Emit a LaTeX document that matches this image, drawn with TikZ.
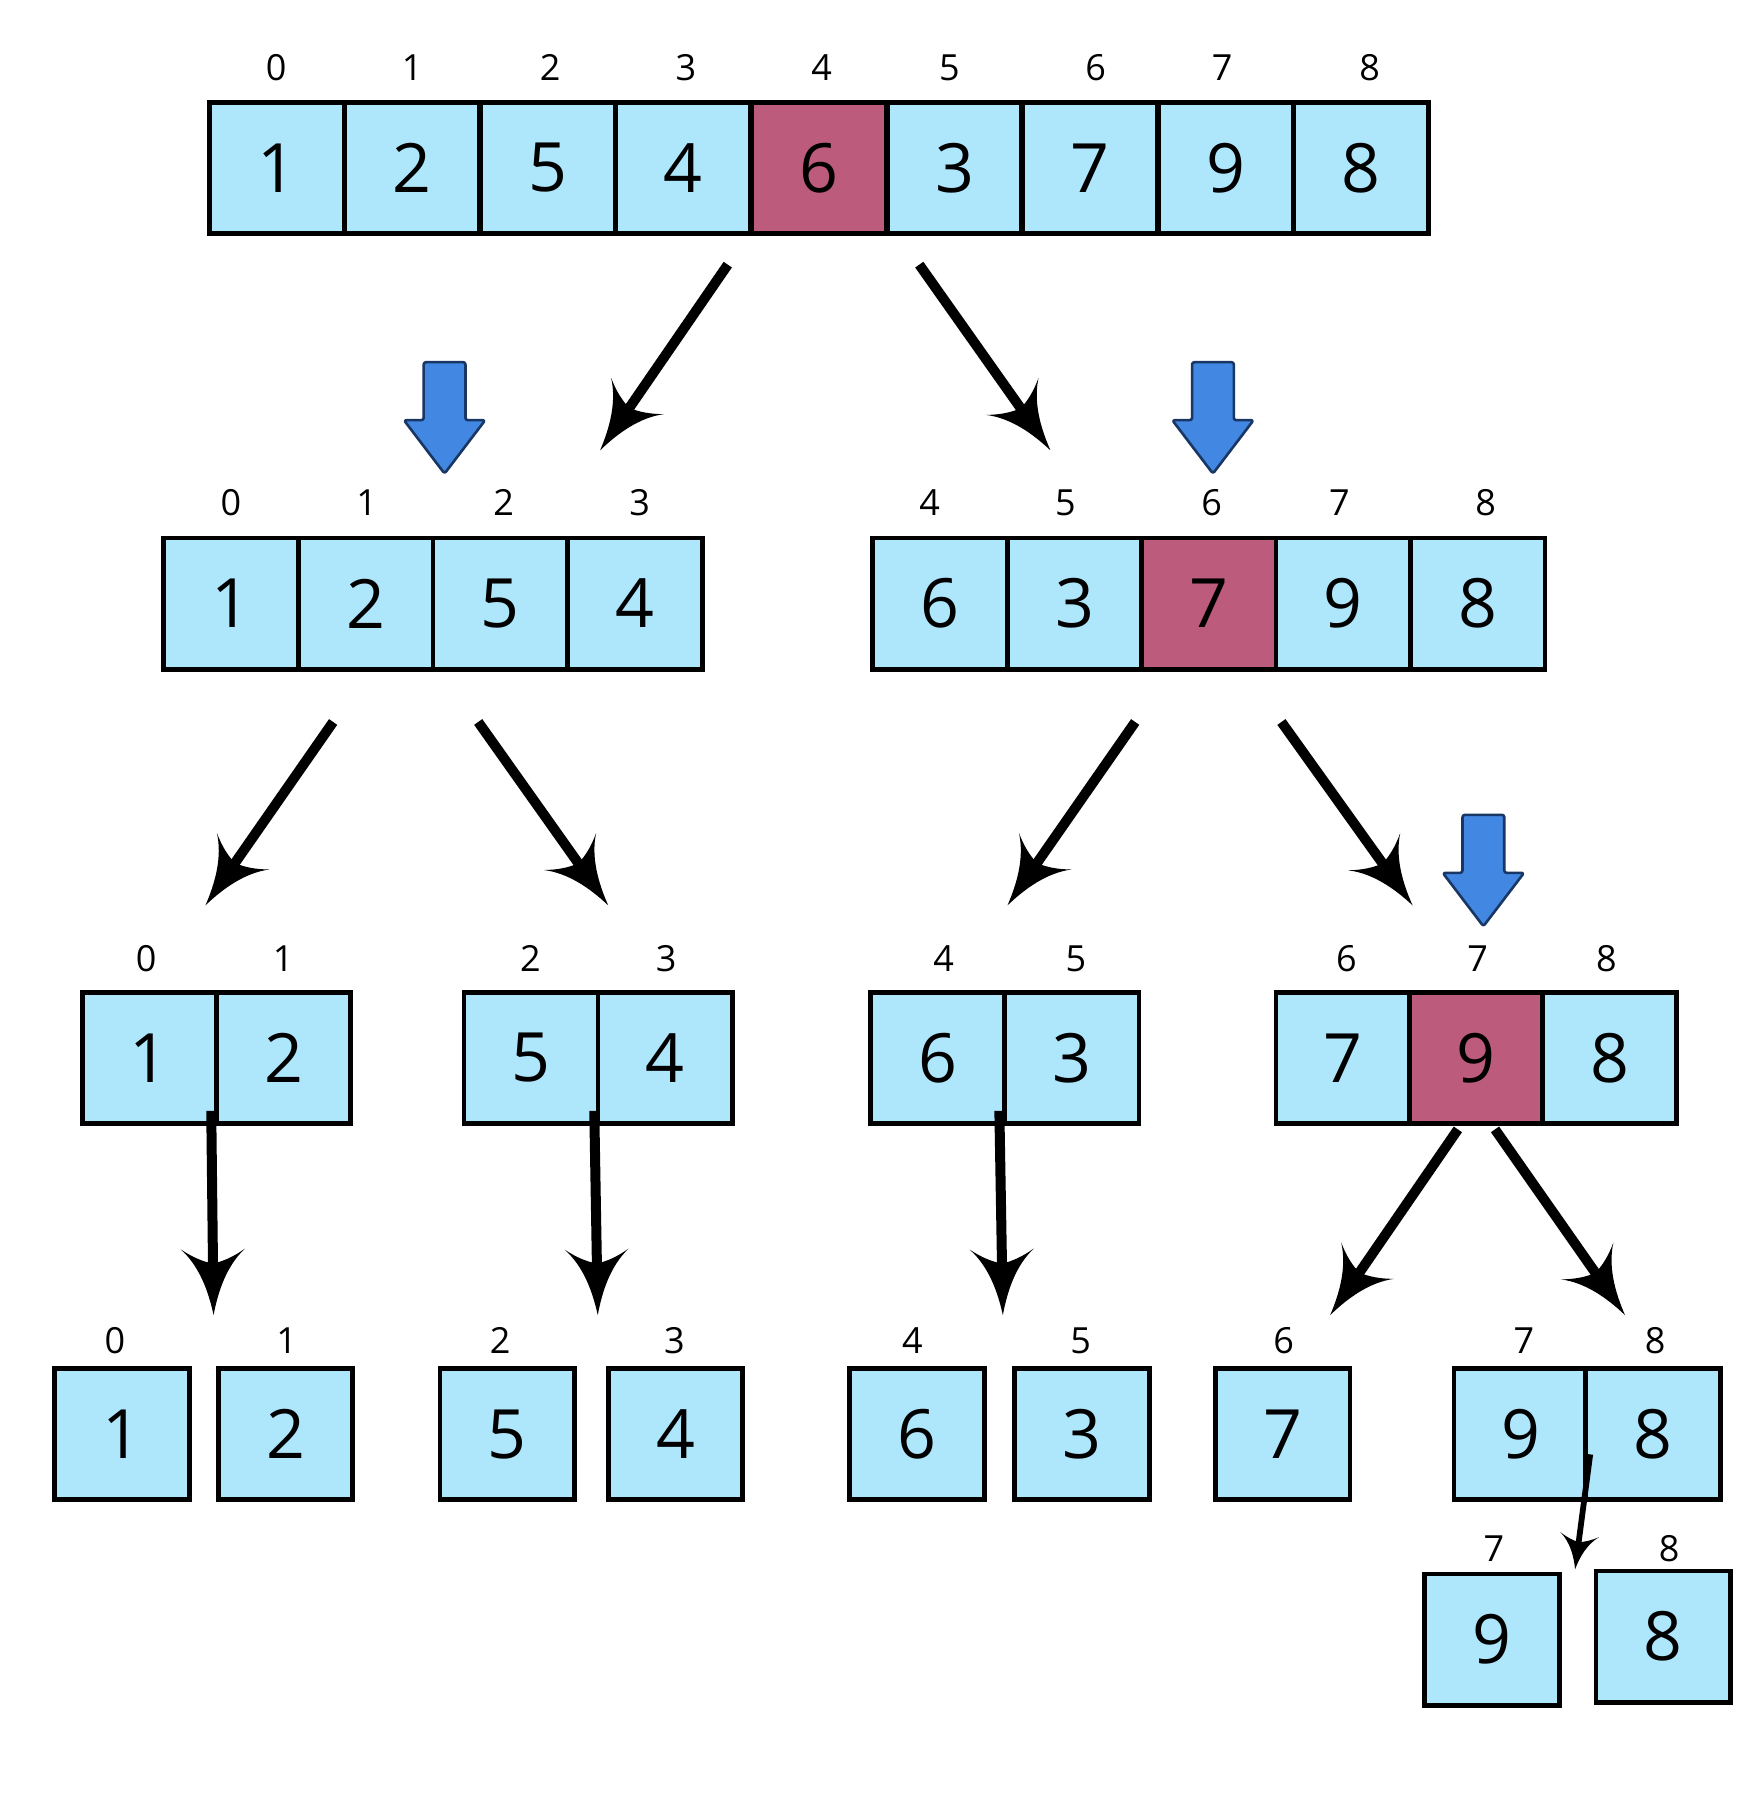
\documentclass[tikz,border=0pt]{standalone}
\usepackage{fontspec}
\setmainfont{Open Sans}
\usetikzlibrary{arrows.meta}
\definecolor{cellblue}{RGB}{174,230,252}
\definecolor{pivotred}{RGB}{188,91,123}
\definecolor{ptrblue}{RGB}{66,135,225}
\definecolor{ptrline}{RGB}{25,55,100}

\pgfdeclarearrow{
  name = Sickle,
  parameters = {\the\pgfarrowlength,\the\pgfarrowwidth},
  setup code = {
    \pgfarrowssettipend{\pgfarrowlength}
    \pgfarrowssetlineend{.25\pgfarrowlength}
    \pgfarrowssetbackend{0pt}
    \pgfarrowssavethe\pgfarrowlength
    \pgfarrowssavethe\pgfarrowwidth
  },
  drawing code = {
    \pgfpathmoveto{\pgfpoint{\pgfarrowlength}{0pt}}
    \pgfpathcurveto{\pgfpoint{.625\pgfarrowlength}{.078\pgfarrowwidth}}{\pgfpoint{.25\pgfarrowlength}{.219\pgfarrowwidth}}{\pgfpoint{0pt}{.5\pgfarrowwidth}}
    \pgfpathcurveto{\pgfpoint{.125\pgfarrowlength}{.3125\pgfarrowwidth}}{\pgfpoint{.1875\pgfarrowlength}{.156\pgfarrowwidth}}{\pgfpoint{.219\pgfarrowlength}{0pt}}
    \pgfpathcurveto{\pgfpoint{.1875\pgfarrowlength}{-.156\pgfarrowwidth}}{\pgfpoint{.125\pgfarrowlength}{-.3125\pgfarrowwidth}}{\pgfpoint{0pt}{-.5\pgfarrowwidth}}
    \pgfpathcurveto{\pgfpoint{.25\pgfarrowlength}{-.219\pgfarrowwidth}}{\pgfpoint{.625\pgfarrowlength}{-.078\pgfarrowwidth}}{\pgfpoint{\pgfarrowlength}{0pt}}
    \pgfpathclose
    \pgfusepathqfill
  },
  defaults = {length = 32pt, width = 32pt}
}

\tikzset{
  cell/.style={draw=black, line width=2.4pt, fill=cellblue, minimum width=67.3pt,
    minimum height=65.6pt, inner sep=0pt, outer sep=0pt, font=\fontsize{34}{37}\selectfont},
  pivot/.style={cell, fill=pivotred},
  idx/.style={inner sep=0pt, font=\fontsize{18}{20}\selectfont},
  bigarrow/.style={line width=5pt, -{Sickle[length=33pt, width=32pt]}},
  smallarrow/.style={line width=2.9pt, -{Sickle[length=17.5pt, width=19.5pt]}},
  ptr/.style={fill=ptrblue, draw=ptrline, line width=1.3pt, line join=round, rounded corners=1.2pt},
  pointer/.pic={\draw[ptr] (-18,0) -- (18,0) -- (18,50) -- (35,50) -- (0,96) -- (-35,50) -- (-18,50) -- cycle;}
}

\begin{document}
\begin{tikzpicture}[x=0.5802pt, y=-0.5802pt]
\useasboundingbox[fill=white] (0,0) rectangle (1503,1568);

% ---------- row 1 ----------
\node[cell]  (r1c0) at (238.4,144.5) {1};
\node[cell]  (r1c1) at (355.2,144.5) {2};
\node[cell]  (r1c2) at (472.0,144.5) {5};
\node[cell]  (r1c3) at (588.7,144.5) {4};
\node[pivot] (r1c4) at (705.5,144.5) {6};
\node[cell]  (r1c5) at (822.3,144.5) {3};
\node[cell]  (r1c6) at (939.1,144.5) {7};
\node[cell]  (r1c7) at (1055.9,144.5) {9};
\node[cell]  (r1c8) at (1172.6,144.5) {8};
\node[idx] (r1l0) at (238,58) {0};
\node[idx] (r1l1) at (355,58) {1};
\node[idx] (r1l2) at (474,58) {2};
\node[idx] (r1l3) at (591,58) {3};
\node[idx] (r1l4) at (708,58) {4};
\node[idx] (r1l5) at (818,58) {5};
\node[idx] (r1l6) at (944,58) {6};
\node[idx] (r1l7) at (1053,58) {7};
\node[idx] (r1l8) at (1180,58) {8};

% ---------- row 2 ----------
\node[cell] (r2c0) at (199,520) {1};
\node[cell] (r2c1) at (315,520) {2};
\node[cell] (r2c2) at (431,520) {5};
\node[cell] (r2c3) at (547,520) {4};
\node[idx] (r2l0) at (199,433) {0};
\node[idx] (r2l1) at (316,433) {1};
\node[idx] (r2l2) at (434,433) {2};
\node[idx] (r2l3) at (551,433) {3};

\node[cell]  (r2c4) at (809.9,520) {6};
\node[cell]  (r2c5) at (925.7,520) {3};
\node[pivot] (r2c6) at (1041.5,520) {7};
\node[cell]  (r2c7) at (1157.3,520) {9};
\node[cell]  (r2c8) at (1273.1,520) {8};
\node[idx] (r2l4) at (801,433) {4};
\node[idx] (r2l5) at (918,433) {5};
\node[idx] (r2l6) at (1044,433) {6};
\node[idx] (r2l7) at (1154,433) {7};
\node[idx] (r2l8) at (1280,433) {8};

% ---------- row 3 ----------
\node[cell] (r3c0) at (128.75,911.5) {1};
\node[cell] (r3c1) at (244.25,911.5) {2};
\node[idx] (r3l0) at (126,826) {0};
\node[idx] (r3l1) at (244,826) {1};

\node[cell] (r3c2) at (457.75,911.5) {5};
\node[cell] (r3c3) at (573.25,911.5) {4};
\node[idx] (r3l2) at (457,826) {2};
\node[idx] (r3l3) at (574,826) {3};

\node[cell] (r3c4) at (807.75,911.5) {6};
\node[cell] (r3c5) at (923.25,911.5) {3};
\node[idx] (r3l4) at (813,826) {4};
\node[idx] (r3l5) at (927,826) {5};

\node[cell]  (r3c6) at (1157.3,911.5) {7};
\node[pivot] (r3c7) at (1272,911.5) {9};
\node[cell]  (r3c8) at (1386.7,911.5) {8};
\node[idx] (r3l6) at (1160,826) {6};
\node[idx] (r3l7) at (1273,826) {7};
\node[idx] (r3l8) at (1384,826) {8};

% ---------- row 4 ----------
\node[cell] (r4c0) at (105,1235.5) {1};
\node[cell] (r4c1) at (246,1235.5) {2};
\node[cell] (r4c2) at (437,1235.5) {5};
\node[cell] (r4c3) at (582,1235.5) {4};
\node[cell] (r4c4) at (790,1235.5) {6};
\node[cell] (r4c5) at (932,1235.5) {3};
\node[cell] (r4c6) at (1105,1235.5) {7};
\node[cell] (r4c7) at (1310.75,1235.5) {9};
\node[cell] (r4c8) at (1424.25,1235.5) {8};
\node[idx] (r4l0) at (99,1155) {0};
\node[idx] (r4l1) at (247,1155) {1};
\node[idx] (r4l2) at (431,1155) {2};
\node[idx] (r4l3) at (581,1155) {3};
\node[idx] (r4l4) at (786,1155) {4};
\node[idx] (r4l5) at (931,1155) {5};
\node[idx] (r4l6) at (1106,1155) {6};
\node[idx] (r4l7) at (1313,1155) {7};
\node[idx] (r4l8) at (1426,1155) {8};

% ---------- row 5 ----------
\node[cell] (r5c7) at (1285.5,1412.5) {9};
\node[cell] (r5c8) at (1433,1410) {8};
\node[idx] (r5l7) at (1287,1334) {7};
\node[idx] (r5l8) at (1438,1334) {8};

% ---------- pivot pointers ----------
\pic at (383,312) {pointer};
\pic at (1045,312) {pointer};
\pic at (1278,702) {pointer};

% ---------- black arrows ----------
\coordinate (a1s) at (627,228);  \coordinate (a1e) at (517,388);
\coordinate (a2s) at (792,228);  \coordinate (a2e) at (905,388);
\coordinate (a3s) at (287,622);  \coordinate (a3e) at (177,780);
\coordinate (a4s) at (412,622);  \coordinate (a4e) at (524,780);
\coordinate (a5s) at (978,622);  \coordinate (a5e) at (868,780);
\coordinate (a6s) at (1104,622); \coordinate (a6e) at (1217,780);
\coordinate (a7s) at (182,957);  \coordinate (a7e) at (184,1133);
\coordinate (a8s) at (512,957);  \coordinate (a8e) at (515,1133);
\coordinate (a9s) at (861,957);  \coordinate (a9e) at (864,1133);
\coordinate (a10s) at (1256,973); \coordinate (a10e) at (1146,1133);
\coordinate (a11s) at (1288,973); \coordinate (a11e) at (1400,1133);
\coordinate (a12s) at (1370,1253); \coordinate (a12e) at (1357,1352);

\foreach \i in {1,...,11} {\draw[bigarrow] (a\i s) -- (a\i e);}
\draw[smallarrow] (a12s) -- (a12e);
\end{tikzpicture}
\end{document}
